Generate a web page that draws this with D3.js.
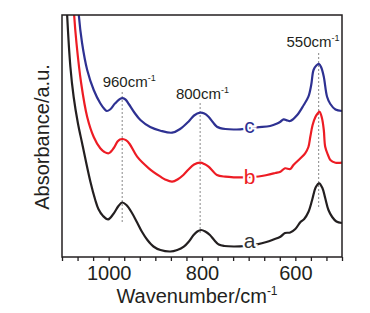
<!DOCTYPE html>
<html>
<head>
<meta charset="utf-8">
<script src="https://cdn.jsdelivr.net/npm/d3@7"></script>
<style>
  body { margin: 0; background: #fff; }
  svg text { font-family: 'Liberation Sans', Arial, sans-serif; }
</style>
</head>
<body>
<svg id="chart"></svg>
<script>
// Chart size and margins
const svgWidth = 370
const svgHeight = 313
const margin = { top: 15, right: 28, bottom: 56, left: 62 }
const width = svgWidth - margin.left - margin.right
const height = svgHeight - margin.top - margin.bottom

// Spectra: [wavenumber (cm-1), absorbance (a.u.)]
const curveA = [
  [1093, 2.87], [1089, 2.42], [1082, 1.90], [1075, 1.60], [1066, 1.34], [1057, 1.14],
  [1039, 0.75], [1029, 0.575], [1022, 0.48], [1012, 0.41], [1001, 0.377], [990, 0.43],
  [979, 0.51], [971, 0.545], [962, 0.52], [950, 0.44], [939, 0.345], [929, 0.255],
  [917, 0.17], [904, 0.105], [889, 0.07], [868, 0.055], [853, 0.07], [839, 0.103],
  [829, 0.15], [818, 0.22], [810, 0.255], [802, 0.27], [793, 0.255], [783, 0.22],
  [774, 0.17], [764, 0.125], [752, 0.11], [732, 0.105], [707, 0.11], [682, 0.127],
  [662, 0.15], [647, 0.175], [632, 0.203], [622, 0.24], [611, 0.245], [600, 0.28],
  [589, 0.35], [581, 0.38], [572, 0.45], [564, 0.57], [556, 0.70], [549, 0.737],
  [542, 0.69], [536, 0.59], [529, 0.47], [521, 0.40], [512, 0.355], [500, 0.34]
]
const curveB = [
  [1078, 2.77], [1074, 2.42], [1069, 2.14], [1059, 1.74], [1046, 1.40], [1032, 1.20],
  [1018, 1.087], [1009, 1.05], [1000, 1.037], [989, 1.09], [981, 1.155], [976, 1.175],
  [970, 1.18], [963, 1.168], [955, 1.13], [939, 1.003], [914, 0.887], [889, 0.803],
  [879, 0.775], [864, 0.753], [851, 0.78], [840, 0.82], [829, 0.875], [817, 0.925],
  [804, 0.943], [795, 0.93], [786, 0.903], [777, 0.86], [768, 0.82], [750, 0.803],
  [732, 0.797], [711, 0.797], [679, 0.805], [661, 0.82], [643, 0.84], [632, 0.853],
  [622, 0.887], [611, 0.88], [604, 0.92], [589, 0.987], [579, 1.037], [572, 1.10],
  [568, 1.20], [563, 1.32], [557, 1.40], [553, 1.43], [548, 1.453], [543, 1.39],
  [539, 1.27], [536, 1.103], [530, 1.02], [525, 0.97], [514, 0.943], [500, 0.943]
]
const curveC = [
  [1068, 2.77], [1064, 2.42], [1057, 2.14], [1046, 1.87], [1032, 1.67], [1018, 1.537],
  [1010, 1.485], [1004, 1.46], [997, 1.475], [986, 1.537], [973, 1.587], [964, 1.575],
  [957, 1.53], [945, 1.445], [932, 1.37], [911, 1.30], [889, 1.263], [864, 1.243],
  [847, 1.28], [829, 1.353], [817, 1.415], [804, 1.443], [795, 1.435], [786, 1.403],
  [777, 1.35], [768, 1.303], [750, 1.28], [718, 1.277], [682, 1.297], [654, 1.31],
  [639, 1.335], [632, 1.353], [625, 1.377], [617, 1.365], [611, 1.36], [596, 1.42],
  [582, 1.52], [572, 1.603], [566, 1.72], [561, 1.87], [555, 1.915], [549, 1.93],
  [544, 1.89], [539, 1.803], [532, 1.603], [525, 1.53], [514, 1.475], [500, 1.46]
]

const seriesNames = ['a', 'b', 'c']
const seriesColors = ['#231f20', '#ed1c24', '#2e3192']
// curve letter labels: [wavenumber, absorbance]
const letterPos = [[698, 0.095], [698, 0.735], [698, 1.24]]

// Peak markers: wavenumber of dashed line, its extent, label position
const peakLabels = ['960', '800', '550']
const peakLines = [971, 804, 550]
const peakLineTop = [1.65, 1.54, 2.04]
const peakLineBottom = [0.35, 0.22, 0.50]
const peakLabelW = [956, 799, 562]
const peakLabelY = [1.70, 1.58, 2.10]

const xMajorTicks = [1000, 800, 600]
const xMinorTicks = d3.range(0, 19).map(i => 1100 - i * 100 / 3)

const svg = d3.select('#chart')
  .attr('width', svgWidth)
  .attr('height', svgHeight)

const g = svg.append('g')
  .attr('transform', `translate(${margin.left}, ${margin.top})`)

const xScale = d3.scaleLinear().domain([1100, 500]).range([0, width])
const yScale = d3.scaleLinear().domain([0, 2.42]).range([height, 0])

svg.append('defs').append('clipPath')
  .attr('id', 'clip')
  .append('rect')
  .attr('width', width)
  .attr('height', height)

// Dashed peak lines
g.selectAll('.peak-line')
  .data(peakLines)
  .enter()
  .append('line')
  .attr('class', 'peak-line')
  .attr('x1', d => xScale(d))
  .attr('x2', d => xScale(d))
  .attr('y1', (d, i) => yScale(peakLineTop[i]))
  .attr('y2', (d, i) => yScale(peakLineBottom[i]))
  .attr('stroke', '#888')
  .attr('stroke-width', 1)
  .attr('stroke-dasharray', '2,2')

// Spectra
const line = d3.line()
  .x(d => xScale(d[0]))
  .y(d => yScale(d[1]))
  .curve(d3.curveCatmullRom.alpha(0.5))

g.append('g')
  .attr('clip-path', 'url(#clip)')
  .selectAll('path')
  .data([curveA, curveB, curveC])
  .enter()
  .append('path')
  .attr('d', line)
  .attr('fill', 'none')
  .attr('stroke', (d, i) => seriesColors[i])
  .attr('stroke-width', 2.2)
  .attr('stroke-linejoin', 'round')

// Curve letters with white halo to break the line
g.selectAll('.letter')
  .data(seriesNames)
  .enter()
  .append('text')
  .attr('class', 'letter')
  .attr('x', (d, i) => xScale(letterPos[i][0]))
  .attr('y', (d, i) => yScale(letterPos[i][1]))
  .attr('text-anchor', 'middle')
  .attr('font-size', 21)
  .attr('fill', (d, i) => i === 0 ? '#333' : seriesColors[i])
  .attr('stroke', '#fff')
  .attr('stroke-width', 4)
  .attr('paint-order', 'stroke')
  .text(d => d)

// Peak labels with superscript -1
const peakText = g.selectAll('.peak-label')
  .data(peakLabels)
  .enter()
  .append('text')
  .attr('class', 'peak-label')
  .attr('x', (d, i) => xScale(peakLabelW[i]))
  .attr('y', (d, i) => yScale(peakLabelY[i]))
  .attr('text-anchor', 'middle')
  .attr('font-size', 15)
  .attr('fill', '#231f20')
peakText.append('tspan').text(d => d + 'cm')
peakText.append('tspan')
  .attr('dy', -6)
  .attr('font-size', 9)
  .text('-1')

// Frame
g.append('rect')
  .attr('width', width)
  .attr('height', height)
  .attr('fill', 'none')
  .attr('stroke', '#231f20')
  .attr('stroke-width', 1.5)

// Bottom axis: minor ticks and labels
const xAxis = d3.axisBottom(xScale)
  .tickValues(xMinorTicks)
  .tickSize(4)
  .tickFormat(d => xMajorTicks.some(m => Math.abs(m - d) < 0.01) ? d3.format('d')(d) : '')

const xAxisGroup = g.append('g')
  .attr('transform', `translate(0, ${height})`)
  .call(xAxis)
xAxisGroup.select('.domain').remove()
xAxisGroup.selectAll('line').attr('stroke', '#231f20').attr('stroke-width', 1.3)
xAxisGroup.selectAll('text')
  .attr('font-size', 20)
  .attr('font-family', "'Liberation Sans', Arial, sans-serif")
  .attr('fill', '#231f20')
  .attr('dy', '0.72em')
  .attr('y', 9)

// Axis titles
const xTitle = svg.append('text')
  .attr('x', margin.left + width / 2 - 5)
  .attr('y', 303)
  .attr('text-anchor', 'middle')
  .attr('font-size', 20)
  .attr('fill', '#231f20')
xTitle.append('tspan').text('Wavenumber/cm')
xTitle.append('tspan').attr('dy', -8).attr('font-size', 12).text('-1')

svg.append('text')
  .attr('transform', `translate(49, ${margin.top + 122}) rotate(-90)`)
  .attr('text-anchor', 'middle')
  .attr('font-size', 20)
  .attr('fill', '#231f20')
  .text('Absorbance/a.u.')
</script>
</body>
</html>
